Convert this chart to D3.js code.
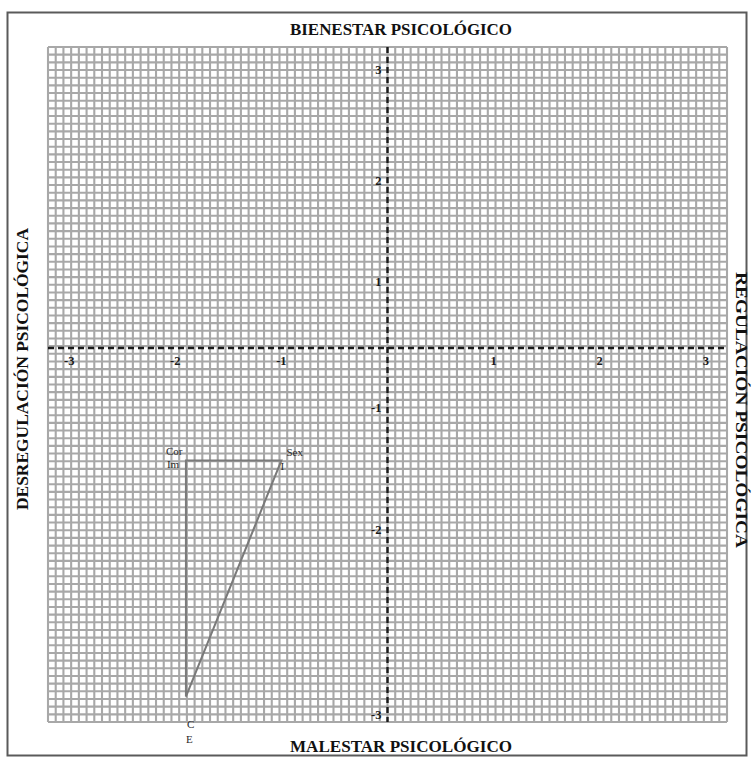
<!DOCTYPE html>
<html><head><meta charset="utf-8">
<script src="https://cdn.jsdelivr.net/npm/d3@7/dist/d3.min.js"></script>
<style>html,body{margin:0;padding:0;background:#fff;}svg{display:block;}</style>
</head><body>
<script>
// ---- data ----
const axisTitles = ["BIENESTAR PSICOLÓGICO", "MALESTAR PSICOLÓGICO", "DESREGULACIÓN PSICOLÓGICA", "REGULACIÓN PSICOLÓGICA"];
const xTicks = [-3, -2, -1, 1, 2, 3];
const yTicks = [3, 2, 1, -1, -2, -3];
const pointNames = [["Cor", "Im"], ["Sex", "I"], ["C", "E"]];
const pointX = [-1.9, -1.0, -1.9];
const pointY = [-1.43, -1.43, -2.9];

const W = 752, H = 760;
const svg = d3.select("body").append("svg").attr("width", W).attr("height", H);
const serif = "'Liberation Serif','DejaVu Serif',serif";

// plot frame
const gx0 = 48, gx1 = 727, gy0 = 47, gy1 = 722;
const x = d3.scaleLinear().domain([-3.2, 3.2]).range([gx0, gx1]);
// printed tick labels are unevenly spaced on the vertical axis
const y = d3.scaleLinear().domain([3.2, 3, 2, 1, 0, -1, -2, -3, -3.05])
  .range([gy0, 70, 181, 282, 348, 408, 530, 715, gy1]);

// outer border
svg.append("rect").attr("x", 7.5).attr("y", 12.5).attr("width", 739).attr("height", 743)
  .attr("fill", "none").attr("stroke", "#5a5a5a").attr("stroke-width", 2);

// grid
const nC = 88, nR = 88;
const gc = d3.scaleLinear().domain([0, nC]).range([gx0, gx1]);
const gr = d3.scaleLinear().domain([0, nR]).range([gy0, gy1]);
const grid = svg.append("g").attr("stroke", "#a8a8a8").attr("stroke-width", 2.1);
grid.selectAll("line.v").data(d3.range(nC + 1)).join("line")
  .attr("x1", d => gc(d)).attr("x2", d => gc(d)).attr("y1", gy0).attr("y2", gy1);
grid.selectAll("line.h").data(d3.range(nR + 1)).join("line")
  .attr("y1", d => gr(d)).attr("y2", d => gr(d)).attr("x1", gx0).attr("x2", gx1);

// axes (dashed)
svg.append("line").attr("x1", gx0).attr("x2", gx1).attr("y1", y(0)).attr("y2", y(0))
  .attr("stroke", "#1a1a1a").attr("stroke-width", 2.4).attr("stroke-dasharray", "6,4");
svg.append("line").attr("x1", x(0)).attr("x2", x(0)).attr("y1", gy0).attr("y2", gy1)
  .attr("stroke", "#1a1a1a").attr("stroke-width", 2.4).attr("stroke-dasharray", "6,4");

// tick labels
svg.selectAll("text.xt").data(xTicks).join("text")
  .attr("x", d => x(d)).attr("y", y(0) + 17)
  .attr("text-anchor", "middle").attr("font-family", serif).attr("font-weight", "bold")
  .attr("font-size", 12.5).attr("fill", "#1a1a1a").text(d => d);
svg.selectAll("text.yt").data(yTicks).join("text")
  .attr("x", x(0) - 6).attr("y", d => y(d) + 4)
  .attr("text-anchor", "end").attr("font-family", serif).attr("font-weight", "bold")
  .attr("font-size", 12.5).attr("fill", "#1a1a1a").text(d => d);

// triangle
const pts = pointX.map((v, i) => [x(v), y(pointY[i])]);
svg.append("path").attr("d", d3.line()(pts) + "Z")
  .attr("fill", "none").attr("stroke", "#7a7a7a").attr("stroke-width", 2);

// point labels
const lab = svg.append("g").attr("font-family", serif).attr("font-size", 11).attr("fill", "#2a2a2a");
const offs = [[-20, -5, -19, 8], [5, -4, -1, 10], [1, 31, 0, 46]];
pointNames.forEach((nm, i) => {
  lab.append("text").attr("x", pts[i][0] + offs[i][0]).attr("y", pts[i][1] + offs[i][1]).text(nm[0]);
  lab.append("text").attr("x", pts[i][0] + offs[i][2]).attr("y", pts[i][1] + offs[i][3]).text(nm[1]);
});

// titles
const tt = svg.append("g").attr("font-family", serif).attr("font-weight", "bold").attr("fill", "#111");
tt.append("text").attr("x", 401).attr("y", 35).attr("text-anchor", "middle").attr("font-size", 16)
  .attr("textLength", 222).attr("lengthAdjust", "spacingAndGlyphs").text(axisTitles[0]);
tt.append("text").attr("x", 401).attr("y", 752).attr("text-anchor", "middle").attr("font-size", 16)
  .attr("textLength", 222).attr("lengthAdjust", "spacingAndGlyphs").text(axisTitles[1]);
tt.append("text").attr("transform", "translate(28,369) rotate(-90)").attr("text-anchor", "middle")
  .attr("font-size", 16).attr("textLength", 282).attr("lengthAdjust", "spacingAndGlyphs").text(axisTitles[2]);
tt.append("text").attr("transform", "translate(736,410) rotate(90)").attr("text-anchor", "middle")
  .attr("font-size", 16).attr("textLength", 276).attr("lengthAdjust", "spacingAndGlyphs").text(axisTitles[3]);
</script>
</body></html>
